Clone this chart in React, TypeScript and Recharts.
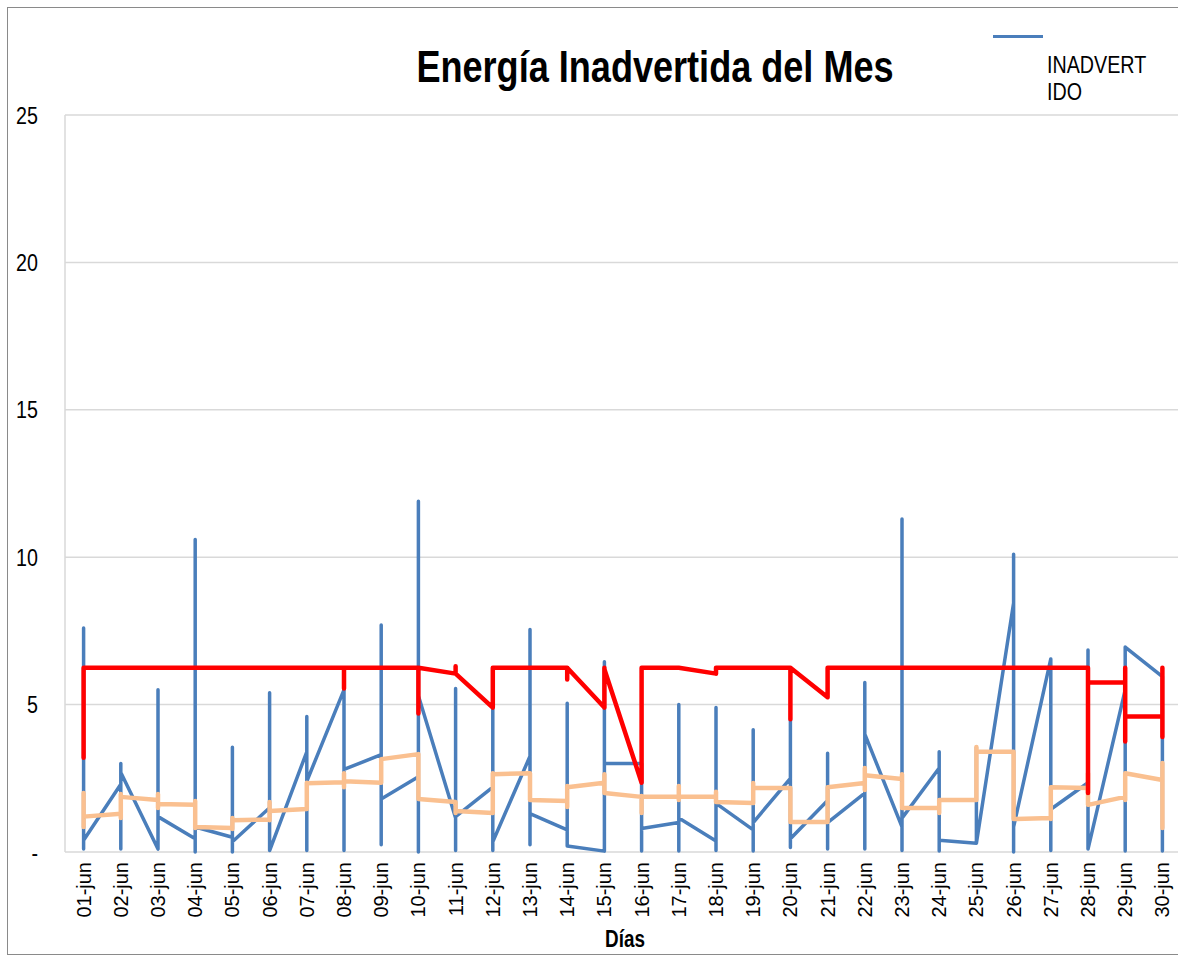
import React from 'react'
import { LineChart, Line, XAxis, YAxis, CartesianGrid } from 'recharts'

const SANS = "'Liberation Sans', Arial, sans-serif"
const NARROW_X = 0.82

const dias = [
  '01-jun', '02-jun', '03-jun', '04-jun', '05-jun', '06-jun', '07-jun', '08-jun', '09-jun', '10-jun',
  '11-jun', '12-jun', '13-jun', '14-jun', '15-jun', '16-jun', '17-jun', '18-jun', '19-jun', '20-jun',
  '21-jun', '22-jun', '23-jun', '24-jun', '25-jun', '26-jun', '27-jun', '28-jun', '29-jun', '30-jun',
]

const yTicks = [0, 5, 10, 15, 20, 25]

// each day: [primer valor, máximo, mínimo, último valor]
const inadvertido: number[][] = [
  [0.1, 7.6, 0.1, 0.4], [2.3, 3.0, 0.1, 2.7], [0.1, 5.5, 0.1, 1.2], [0.45, 10.6, 0.0, 0.85],
  [0.5, 3.55, 0.0, 0.35], [1.5, 5.4, 0.05, 0.05], [3.4, 4.6, 0.05, 2.4], [5.5, 5.5, 0.05, 2.8],
  [3.3, 7.7, 0.25, 1.8], [2.55, 11.9, 0.0, 5.3], [1.15, 5.55, 0.05, 1.2], [2.2, 4.9, 0.05, 0.35],
  [3.25, 7.55, 0.25, 1.3], [0.75, 5.05, 0.2, 0.2], [0.03, 6.45, 0.03, 3.0], [3.0, 3.0, 0.03, 0.8],
  [1.0, 5.0, 0.03, 1.15], [0.37, 4.9, 0.05, 1.65], [0.75, 4.15, 0.03, 1.0], [2.5, 4.5, 0.15, 0.45],
  [1.75, 3.35, 0.1, 1.0], [2.0, 5.75, 0.1, 4.0], [0.85, 11.3, 0.05, 1.15], [2.85, 3.4, 0.03, 0.4],
  [0.3, 3.55, 0.3, 0.3], [8.45, 10.1, 0.0, 0.85], [6.55, 6.55, 0.05, 1.45], [2.35, 6.85, 0.1, 0.1],
  [5.5, 6.95, 0.03, 6.95], [5.95, 5.95, 0.03, 0.03],
]

const promedio: number[][] = [
  [2.0, 2.0, 0.85, 1.2], [1.3, 1.97, 1.15, 1.87], [1.76, 1.97, 1.49, 1.63], [1.6, 1.73, 0.81, 0.85],
  [0.81, 1.15, 0.78, 1.08], [1.1, 1.7, 1.08, 1.39], [1.46, 2.35, 1.46, 2.33], [2.37, 2.67, 2.2, 2.4],
  [2.35, 3.15, 2.35, 3.15], [3.32, 3.32, 1.8, 1.8], [1.7, 1.7, 1.32, 1.39], [1.32, 2.67, 1.32, 2.64],
  [2.67, 2.67, 1.76, 1.76], [1.73, 2.24, 1.53, 2.2], [2.35, 2.64, 2.0, 2.0], [1.87, 1.9, 1.32, 1.87],
  [1.87, 2.24, 1.76, 1.87], [1.87, 2.04, 1.7, 1.7], [1.66, 2.34, 1.66, 2.17], [2.17, 2.17, 1.02, 1.02],
  [1.02, 2.2, 1.02, 2.2], [2.34, 2.85, 2.1, 2.6], [2.48, 2.64, 1.49, 1.49], [1.49, 1.76, 1.32, 1.76],
  [1.76, 3.56, 1.76, 3.4], [3.4, 3.4, 1.12, 1.12], [1.15, 2.2, 1.12, 2.2], [2.17, 2.67, 1.6, 1.6],
  [1.87, 2.67, 1.76, 2.67], [2.44, 3.02, 0.81, 0.81],
]

const limite: number[][] = [
  [3.2, 6.25, 3.2, 6.25], [6.25, 6.25, 6.25, 6.25], [6.25, 6.25, 6.25, 6.25], [6.25, 6.25, 6.25, 6.25],
  [6.25, 6.25, 6.25, 6.25], [6.25, 6.25, 6.25, 6.25], [6.25, 6.25, 6.25, 6.25], [6.25, 6.25, 5.55, 6.25],
  [6.25, 6.25, 6.25, 6.25], [6.25, 6.25, 4.7, 6.25], [6.05, 6.3, 6.05, 6.05], [4.9, 6.25, 4.9, 6.25],
  [6.25, 6.25, 6.25, 6.25], [6.25, 6.25, 5.85, 6.25], [4.9, 6.25, 4.9, 6.2], [2.35, 6.25, 2.35, 6.25],
  [6.25, 6.25, 6.25, 6.25], [6.05, 6.25, 6.05, 6.25], [6.25, 6.25, 6.25, 6.25], [6.25, 6.25, 4.5, 6.25],
  [5.25, 6.25, 5.25, 6.25], [6.25, 6.25, 6.25, 6.25], [6.25, 6.25, 6.25, 6.25], [6.25, 6.25, 6.25, 6.25],
  [6.25, 6.25, 6.25, 6.25], [6.25, 6.25, 6.25, 6.25], [6.25, 6.25, 6.25, 6.25], [6.25, 6.25, 2.0, 5.75],
  [5.75, 6.25, 3.75, 4.6], [4.6, 6.25, 3.9, 3.9],
]

const toPoints = (rows: number[][]) => rows.flatMap((r, i) => r.map(v => ({ x: i + 1, v })))

const boundaryTicks = Array.from({ length: dias.length + 1 }, (_, i) => i + 0.5)
const dayTicks = dias.map((_, i) => i + 1)

const DayTick = ({ x, y, payload }: any) => (
  <text
    x={x}
    y={y}
    transform={`rotate(-90 ${x} ${y})`}
    textAnchor="end"
    dominantBaseline="central"
    fontSize={20}
    fontFamily={SANS}
    fill="#000"
  >
    {dias[payload.value - 1]}
  </text>
)

const ValueTick = ({ x, y, payload }: any) => (
  <g transform={`translate(${x} ${y}) scale(${NARROW_X} 1)`}>
    <text x={0} y={0} dy="0.36em" textAnchor="end" fontSize={24} fontFamily={SANS} fill="#000">
      {payload.value === 0 ? '-' : String(payload.value)}
    </text>
  </g>
)

export default function App() {
  return (
    <div style={{ position: 'absolute', left: 0, top: 0, width: 1178, height: 958, overflow: 'hidden', background: '#fff' }}>
      <div style={{ position: 'absolute', left: 7, top: 7, width: 1200, height: 946, border: '1px solid #8a8a8a' }} />
      <div style={{ position: 'absolute', left: 0, top: 0 }}>
        <LineChart width={1182} height={958} margin={{ top: 115, right: 1, bottom: 26, left: 0 }}>
          <CartesianGrid vertical={false} stroke="#d9d9d9" strokeWidth={1.5} />
          <XAxis
            type="number"
            dataKey="x"
            domain={[0.5, 30.5]}
            ticks={boundaryTicks}
            tick={false}
            height={0}
            stroke="#868686"
            strokeWidth={1.5}
            tickSize={6}
            interval={0}
            allowDataOverflow
          />
          <XAxis
            xAxisId="lab"
            type="number"
            dataKey="x"
            domain={[0.5, 30.5]}
            ticks={dayTicks}
            tick={<DayTick />}
            interval={0}
            height={80}
            axisLine={false}
            tickLine={false}
            tickSize={0}
            tickMargin={10}
            allowDataOverflow
          />
          <YAxis
            type="number"
            domain={[0, 25]}
            ticks={yTicks}
            width={65}
            axisLine={{ stroke: '#d9d9d9', strokeWidth: 1.5 }}
            tickLine={false}
            tickSize={0}
            tickMargin={27}
            tick={<ValueTick />}
          />
          <Line data={toPoints(inadvertido)} dataKey="v" type="linear" stroke="#4a7ebb" strokeWidth={3.5}
            strokeLinejoin="round" strokeLinecap="round" dot={false} activeDot={false} isAnimationActive={false} />
          <Line data={toPoints(promedio)} dataKey="v" type="linear" stroke="#fac090" strokeWidth={4.5}
            strokeLinejoin="round" strokeLinecap="round" dot={false} activeDot={false} isAnimationActive={false} />
          <Line data={toPoints(limite)} dataKey="v" type="linear" stroke="#ff0000" strokeWidth={4.5}
            strokeLinejoin="round" strokeLinecap="round" dot={false} activeDot={false} isAnimationActive={false} />
        </LineChart>
      </div>
      <div style={{ position: 'absolute', left: 355, width: 600, top: 45, textAlign: 'center', fontFamily: SANS, fontWeight: 'bold', fontSize: 44, lineHeight: '44px', color: '#000', transform: `scaleX(${NARROW_X})`, transformOrigin: '50% 0' }}>
        Energía Inadvertida del Mes
      </div>
      <div style={{ position: 'absolute', left: 993, top: 35, width: 50, height: 3, background: '#4a7ebb' }} />
      <div style={{ position: 'absolute', left: 1047, top: 51, width: 124, fontFamily: SANS, fontSize: 24, lineHeight: '27px', wordBreak: 'break-all', color: '#000', transform: `scaleX(${NARROW_X})`, transformOrigin: '0 0' }}>
        INADVERTIDO
      </div>
      <div style={{ position: 'absolute', left: 525, width: 200, top: 926, textAlign: 'center', fontFamily: SANS, fontWeight: 'bold', fontSize: 23, lineHeight: '26px', color: '#000', transform: `scaleX(${NARROW_X})`, transformOrigin: '50% 0' }}>
        Días
      </div>
    </div>
  )
}
